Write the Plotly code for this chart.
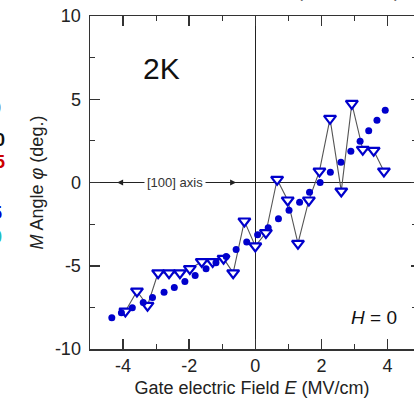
import plotly.graph_objects as go

# ---- data ----
tri_x = [-3.93, -3.58, -3.26, -2.94, -2.61, -2.28, -1.98, -1.62, -1.29, -0.96, -0.67, -0.33,
         0.00, 0.32, 0.66, 0.98, 1.29, 1.62, 1.94, 2.26, 2.60, 2.92, 3.25, 3.58, 3.89]
tri_y = [-7.73, -6.53, -7.39, -5.43, -5.43, -5.43, -5.18, -4.76, -4.76, -4.56, -5.43, -2.32,
         -3.82, -3.02, 0.18, -1.06, -3.66, -1.06, 0.68, 3.84, -0.52, 4.74, 1.98, 1.92, 0.68]

circ_x = [-4.34, -4.05, -3.72, -3.39, -3.11, -2.76, -2.45, -2.13, -1.82, -1.49, -1.19, -0.88,
          -0.58, -0.26, 0.07, 0.39, 0.70, 1.02, 1.34, 1.64, 1.96, 2.27, 2.59, 2.89, 3.17,
          3.43, 3.68, 3.93]
circ_y = [-8.13, -7.83, -7.53, -7.21, -6.91, -6.59, -6.31, -5.95, -5.59, -5.18, -4.82, -4.45,
          -4.02, -3.57, -3.14, -2.72, -2.18, -1.66, -1.18, -0.58, 0.00, 0.62, 1.22, 1.88, 2.48,
          3.11, 3.74, 4.34]

x_tickvals = [-4, -2, 0, 2, 4]
x_ticktext = ["-4", "-2", "0", "2", "4"]
y_tickvals = [-10, -5, 0, 5, 10]
y_ticktext = ["-10", "-5", "0", "5", "10"]

x_range = [-5, 4.8]
y_range = [-10, 10]

FONT = "Arial, Liberation Sans, sans-serif"
BLUE = "#0000CC"
AX = "#333333"

fig = go.Figure()
fig.add_trace(go.Scatter(
    x=tri_x, y=tri_y, mode="lines+markers",
    line=dict(color="#555555", width=1.1),
    marker=dict(symbol="triangle-down", size=10.5, color="white",
                line=dict(color=BLUE, width=2.2)),
    showlegend=False, hoverinfo="skip"))
fig.add_trace(go.Scatter(
    x=circ_x, y=circ_y, mode="markers",
    marker=dict(symbol="circle", size=7, color=BLUE),
    showlegend=False, hoverinfo="skip"))
fig.add_trace(go.Scatter(x=[None], y=[None], yaxis="y2", showlegend=False, hoverinfo="skip"))

axis_common = dict(
    ticks="inside", ticklen=10, tickwidth=1.5, tickcolor=AX,
    showline=True, linecolor=AX, linewidth=1.5, showgrid=False,
    zeroline=True, zerolinecolor="#222222", zerolinewidth=1,
    tickfont=dict(family=FONT, size=18, color="#222222"),
    automargin=False,
)

fig.update_layout(
    width=414, height=401,
    margin=dict(l=90, r=0, t=16, b=52, pad=0),
    paper_bgcolor="white", plot_bgcolor="white",
    font=dict(family=FONT, color="#222222"),
    xaxis=dict(
        range=x_range, tickvals=x_tickvals, ticktext=x_ticktext,
        mirror="ticks",
        minor=dict(dtick=1, tick0=0, ticks="inside", ticklen=5, tickwidth=1.2, tickcolor=AX),
        title=dict(text="Gate electric Field <i>E</i> (MV/cm)",
                   font=dict(family=FONT, size=18, color="#222222"), standoff=6),
        **axis_common),
    yaxis=dict(
        range=y_range, tickvals=y_tickvals, ticktext=y_ticktext,
        mirror=False, ticklabelstandoff=4,
        minor=dict(dtick=2.5, tick0=0, ticks="inside", ticklen=5, tickwidth=1.2, tickcolor=AX),
        title=dict(text="<i>M</i> Angle <i>φ</i> (deg.)",
                   font=dict(family=FONT, size=18, color="#222222"), standoff=6),
        **axis_common),
    yaxis2=dict(
        overlaying="y", side="right", range=y_range, tickvals=y_tickvals,
        showticklabels=False, ticks="inside", ticklen=3, tickwidth=1.5, tickcolor=AX,
        showline=False, showgrid=False, zeroline=False,
        minor=dict(dtick=2.5, tick0=0, ticks="inside", ticklen=2, tickwidth=1.2, tickcolor=AX),
    ),
)

ann = []
# [100] axis label on the horizontal zero line
ann.append(dict(x=-2.42, y=0, xref="x", yref="y", text="[100] axis", showarrow=False,
                font=dict(family=FONT, size=13, color="#333333"),
                bgcolor="white", borderpad=2))
# arrow heads
ann.append(dict(x=-4.18, y=0, xref="x", yref="y", text="", showarrow=True,
                ax=10, ay=0, arrowhead=2, arrowsize=1, arrowwidth=1.2, arrowcolor="#222222"))
ann.append(dict(x=-0.58, y=0, xref="x", yref="y", text="", showarrow=True,
                ax=-10, ay=0, arrowhead=2, arrowsize=1, arrowwidth=1.2, arrowcolor="#222222"))
# 2K and H = 0
ann.append(dict(x=-2.85, y=6.85, xref="x", yref="y", text="2K", showarrow=False,
                font=dict(family=FONT, size=30, color="#111111")))
ann.append(dict(x=4.36, y=-8.1, xref="x", yref="y", text="<i>H</i> = 0", showarrow=False,
                xanchor="right", font=dict(family=FONT, size=19, color="#111111")))

# cropped fragments of a neighbouring panel on the left (cut off in the reference too)
def px2paper(px, py):
    return (px - 90) / 324.0, (349 - py) / 333.0

for px, py, txt, col, bold in [(3, 108, "0", "#444444", False),
                               (7, 140, "0", "#111111", True),
                               (7, 162, "5", "#CC0000", True),
                               (4, 213, "5", "#0000CC", True),
                               (4, 237, "0", "#22BBBB", True)]:
    xp, yp = px2paper(px, py)
    ann.append(dict(x=xp, y=yp, xref="paper", yref="paper",
                    text=("<b>%s</b>" % txt) if bold else txt, showarrow=False,
                    xanchor="right", yanchor="middle",
                    font=dict(family=FONT, size=18, color=col)))

# cropped title fragment at the top (only its lowest tips are visible)
for px, txt in [(300, "("), (345, ","), (397, ")")]:
    xp, yp = px2paper(px, 3)
    ann.append(dict(x=xp, y=yp, xref="paper", yref="paper", text=txt, showarrow=False,
                    xanchor="center", yanchor="bottom",
                    font=dict(family=FONT, size=18, color="#666666")))

fig.update_layout(annotations=ann)

fig.write_html("out.html",
               config={"displayModeBar": False, "staticPlot": True},
               post_script="document.body.style.margin='0';document.body.style.overflow='hidden';")
